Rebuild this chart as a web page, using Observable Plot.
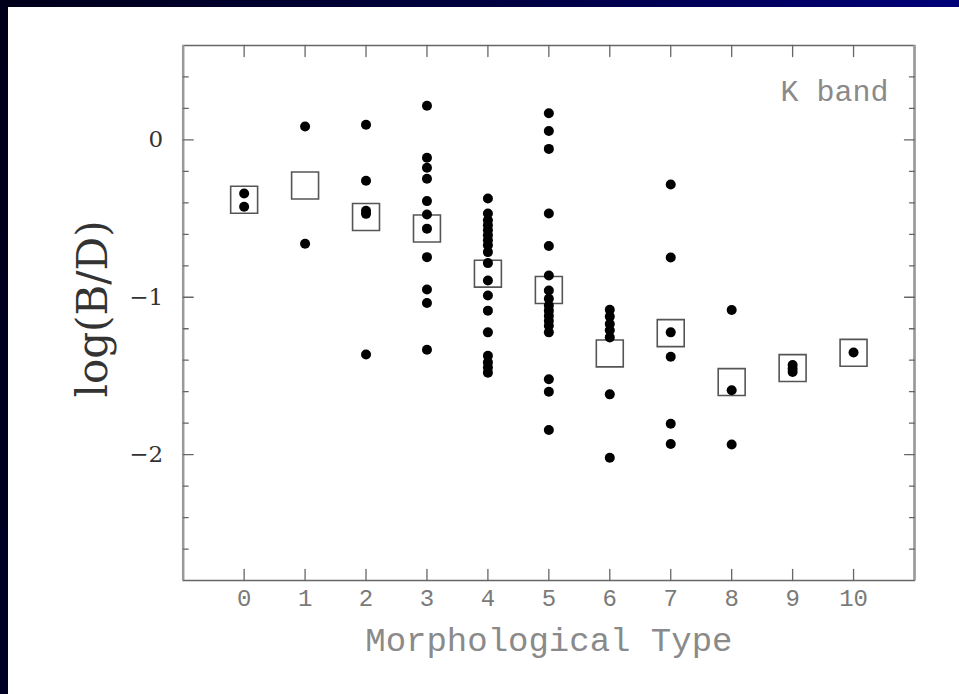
<!DOCTYPE html>
<html>
<head>
<meta charset="utf-8">
<script src="https://cdn.jsdelivr.net/npm/d3@7"></script>
<script src="https://cdn.jsdelivr.net/npm/@observablehq/plot@0.6"></script>
<style>
  html, body { margin: 0; padding: 0; }
  body {
    width: 959px; height: 694px; overflow: hidden; position: relative;
    background: linear-gradient(100deg, #00001a 0%, #000045 50%, #00008a 100%);
  }
  #chart { position: absolute; left: 8px; top: 7px; background: #fff; }
  #chart svg { display: block; }
</style>
</head>
<body>
<div id="chart"></div>
<script>
// ---- data ----
const types = [0, 1, 2, 3, 4, 5, 6, 7, 8, 9, 10];
const galaxiesByType = [
  [-0.34, -0.425],
  [0.085, -0.66],
  [0.096, -0.26, -0.45, -0.47, -1.364],
  [0.217, -0.113, -0.177, -0.247, -0.389, -0.474, -0.564, -0.745, -0.951, -1.036, -1.334],
  [-0.372, -0.468, -0.51, -0.543, -0.574, -0.606, -0.638, -0.67, -0.713, -0.783, -0.893, -0.989, -1.085, -1.223, -1.372, -1.414, -1.446, -1.479],
  [0.17, 0.057, -0.057, -0.468, -0.674, -0.862, -0.957, -1.01, -1.053, -1.085, -1.117, -1.149, -1.181, -1.223, -1.521, -1.6, -1.844],
  [-1.08, -1.123, -1.17, -1.21, -1.255, -1.617, -2.02],
  [-0.283, -0.747, -1.223, -1.378, -1.804, -1.932],
  [-1.081, -1.591, -1.936],
  [-1.43, -1.455, -1.475],
  [-1.351]
];
const meanLogBD = [-0.38, -0.29, -0.49, -0.563, -0.85, -0.954, -1.357, -1.228, -1.539, -1.45, -1.353];
const xTicks = types;
const yMajorTicks = [-2, -1, 0];
const yMinorTicks = [-2.6, -2.4, -2.2, -1.8, -1.6, -1.4, -1.2, -0.8, -0.6, -0.4, -0.2, 0.2, 0.4];
const xTitle = "Morphological Type";
const yTitle = "log(B/D)";
const bandLabel = "K band";

// ---- build tables ----
const galaxies = galaxiesByType.flatMap((vals, i) => vals.map(v => ({type: types[i], logBD: v})));
const means = types.map((t, i) => ({type: t, logBD: meanLogBD[i]}));

const L = 8, T = 7;
const W = 959 - L, H = 694 - T;
const tickShape = {draw(context, l) { context.moveTo(0, 0); context.lineTo(0, -l); }};
const axisColor = "#666";
const mono = "'Liberation Mono', 'DejaVu Sans Mono', monospace";
const serif = "'DejaVu Serif', serif";
const fmtY = d => d < 0 ? "\u2212" + Math.abs(d) : String(d);

const chart = Plot.plot({
  width: W,
  height: H,
  marginLeft: 182.7 - L,
  marginTop: 45 - T,
  marginRight: 45,
  marginBottom: 694 - 580,
  style: {background: "#fff", overflow: "visible"},
  x: {domain: [-1, 11], axis: null},
  y: {domain: [-2.8, 0.6], axis: null},
  marks: [
    // tick labels (through the scales)
    Plot.text(xTicks, {x: d => d, frameAnchor: "bottom", dy: 25, text: d => String(d), fontSize: 24, fontFamily: mono, fill: "#7a7a7a"}),
    Plot.text(yMajorTicks, {y: d => d, frameAnchor: "left", dx: -20, textAnchor: "end", text: fmtY, fontSize: 23, fontFamily: serif, fill: "#333"}),
    // frame
    Plot.frame({stroke: axisColor, strokeWidth: 1.5}),
    Plot.ruleX([-1, 11], {stroke: "#999", strokeWidth: 2.5}),
    // inward ticks
    Plot.vector(xTicks, {x: d => d, frameAnchor: "bottom", length: 11, rotate: 0, anchor: "start", shape: tickShape, stroke: axisColor, strokeWidth: 1.3}),
    Plot.vector(xTicks, {x: d => d, frameAnchor: "top", length: 11, rotate: 180, anchor: "start", shape: tickShape, stroke: axisColor, strokeWidth: 1.3}),
    Plot.vector(yMajorTicks, {y: d => d, frameAnchor: "left", length: 10, rotate: 90, anchor: "start", shape: tickShape, stroke: axisColor, strokeWidth: 1.3}),
    Plot.vector(yMinorTicks, {y: d => d, frameAnchor: "left", length: 5, rotate: 90, anchor: "start", shape: tickShape, stroke: axisColor, strokeWidth: 1.3}),
    Plot.vector(yMajorTicks, {y: d => d, frameAnchor: "right", length: 10, rotate: -90, anchor: "start", shape: tickShape, stroke: axisColor, strokeWidth: 1.3}),
    Plot.vector(yMinorTicks, {y: d => d, frameAnchor: "right", length: 5, rotate: -90, anchor: "start", shape: tickShape, stroke: axisColor, strokeWidth: 1.3}),
    // means: open squares
    Plot.dot(means, {x: "type", y: "logBD", symbol: "square", r: 15.2, stroke: "#555", strokeWidth: 1.6, fill: "none"}),
    // individual galaxies
    Plot.dot(galaxies, {x: "type", y: "logBD", r: 5, fill: "#000", stroke: "none"}),
    // titles
    Plot.text([xTitle], {frameAnchor: "bottom", dy: 70, fontSize: 34, fontFamily: mono, fill: "#8a8a8a"}),
    Plot.text([yTitle], {frameAnchor: "left", textAnchor: "middle", dx: -(182.7 - 93), dy: -4, rotate: -90, fontSize: 42, fontFamily: serif, fill: "#333", letterSpacing: 1}),
    Plot.text([bandLabel], {frameAnchor: "top-right", dx: -26, dy: 34, textAnchor: "end", fontSize: 30, fontFamily: mono, fill: "#8a8a8a"})
  ]
});
document.getElementById("chart").appendChild(chart);
</script>
</body>
</html>
